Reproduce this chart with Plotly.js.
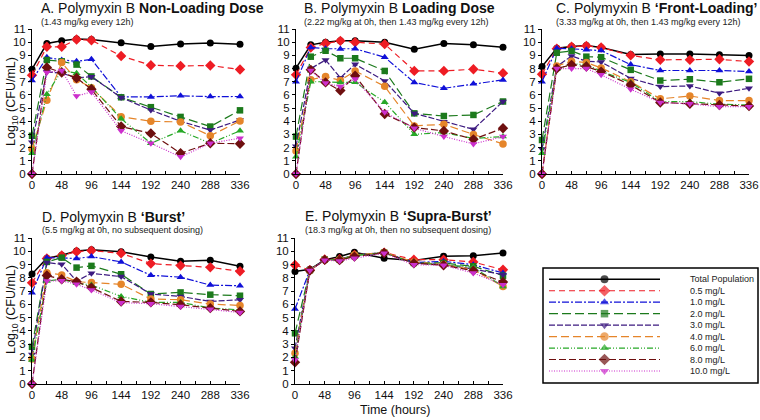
<!DOCTYPE html>
<html><head><meta charset="utf-8">
<script src="https://cdn.plot.ly/plotly-3.0.1.min.js"></script>
<style>html,body{margin:0;padding:0;background:#fff}#chart{width:760px;height:420px}</style>
</head><body><div id="chart"></div>
<script>
// ---- data ----
const hours = [0, 24, 48, 72, 96, 144, 192, 240, 288, 336];
const hourTicks = [0, 48, 96, 144, 192, 240, 288, 336];
const hourMinorTicks = [24, 72, 120, 168, 216, 264, 312];
const seriesNames = ['Total Population', '0.5 mg/L', '1.0 mg/L', '2.0 mg/L', '3.0 mg/L', '4.0 mg/L', '6.0 mg/L', '8.0 mg/L', '10.0 mg/L'];

const panelTitles = [
  'A. Polymyxin B <b>Non-Loading Dose</b>',
  'B. Polymyxin B <b>Loading Dose</b>',
  'C. Polymyxin B <b>‘Front-Loading’</b>',
  'D. Polymyxin B <b>‘Burst’</b>',
  'E. Polymyxin B <b>‘Supra-Burst’</b>'
];
const panelSubtitles = [
  '(1.43 mg/kg every 12h)',
  '(2.22 mg/kg at 0h, then 1.43 mg/kg every 12h)',
  '(3.33 mg/kg at 0h, then 1.43 mg/kg every 12h)',
  '(5.5 mg/kg at 0h, no subsequent dosing)',
  '(18.3 mg/kg at 0h, then no subsequent dosing)'
];

// Log10 CFU/mL, one row per series (order = seriesNames)
const panelA = [
  [7.95, 9.9, 10.1, 10.25, 10.2, 9.95, 9.67, 9.87, 9.93, 9.85],
  [7.5, 9.65, 9.65, 10.2, 10.15, 8.95, 8.25, 8.2, 8.23, 7.93],
  [7.1, 8.85, 8.65, 8.55, 8.7, 5.85, 5.85, 5.93, 5.87, 5.88],
  [2.9, 8.65, 8.55, 8.3, 7.4, 5.82, 5.07, 4.33, 3.6, 4.83],
  [2.4, 7.75, 7.65, 7.3, 7.38, 5.8, 4.85, 4.0, 3.33, 4.1],
  [1.9, 5.6, 8.45, 7.15, 6.55, 4.35, 4.0, 3.95, 2.9, 4.03],
  [1.57, 6.05, 7.85, 7.65, 6.6, 4.2, 2.33, 3.28, 2.33, 3.28],
  [0, 8.08, 7.7, 7.28, 6.43, 3.6, 3.08, 1.58, 2.33, 2.3],
  [0, 7.7, 7.85, 5.92, 6.22, 3.28, 2.33, 1.3, 2.33, 2.72]
];
const panelB = [
  [8.03, 9.8, 10.0, 10.1, 10.1, 10.0, 9.47, 9.9, 9.8, 9.62],
  [7.52, 9.6, 9.9, 10.1, 10.0, 9.85, 7.82, 7.82, 7.95, 7.65],
  [7.0, 9.6, 9.5, 9.48, 9.5, 8.86, 6.94, 6.5, 6.84, 7.14],
  [2.84, 8.9, 9.35, 8.78, 8.78, 7.82, 4.6, 4.4, 4.48, 5.5],
  [2.1, 8.0, 8.65, 7.3, 8.33, 7.06, 4.6, 3.97, 3.39, 5.5],
  [1.75, 7.15, 7.4, 7.1, 7.82, 6.65, 3.65, 3.77, 3.0, 2.28],
  [1.3, 7.0, 7.0, 6.95, 6.96, 5.45, 3.01, 3.14, 2.7, 2.84],
  [0, 7.9, 6.95, 6.33, 7.45, 4.55, 3.52, 3.27, 2.63, 3.47],
  [0, 7.85, 6.9, 6.63, 7.2, 4.68, 3.47, 2.84, 2.28, 2.84]
];
const panelC = [
  [8.15, 9.54, 9.67, 9.75, 9.6, 9.06, 9.11, 9.11, 9.04, 8.99],
  [7.57, 9.5, 9.65, 9.72, 9.6, 9.0, 8.66, 8.66, 8.7, 8.53],
  [7.0, 9.54, 9.5, 9.42, 9.36, 8.3, 7.85, 7.85, 7.85, 7.77],
  [2.58, 9.2, 9.34, 8.9, 8.86, 7.9, 7.09, 7.19, 6.96, 7.22],
  [1.9, 8.15, 8.96, 8.55, 8.5, 7.25, 6.63, 6.68, 6.13, 6.5],
  [0, 8.2, 8.55, 8.45, 8.05, 7.0, 5.7, 5.92, 5.57, 5.57],
  [1.57, 7.95, 8.35, 8.3, 7.8, 6.95, 5.49, 5.49, 5.29, 5.24],
  [0, 8.0, 8.28, 8.15, 7.77, 6.76, 5.42, 5.32, 5.24, 5.16],
  [0, 8.0, 8.0, 8.0, 7.52, 6.43, 5.42, 5.32, 5.11, 5.11]
];
const panelD = [
  [8.28, 9.47, 9.7, 10.02, 10.12, 9.97, 9.57, 9.24, 9.32, 8.87],
  [7.62, 9.45, 9.68, 9.97, 10.05, 9.85, 9.07, 8.92, 8.79, 8.49],
  [6.87, 9.52, 9.5, 9.45, 9.6, 9.2, 8.19, 8.05, 7.45, 7.4],
  [2.8, 9.2, 9.52, 8.77, 8.9, 8.27, 6.78, 6.9, 6.73, 6.65],
  [2.22, 9.15, 9.02, 7.75, 8.34, 8.09, 6.78, 6.6, 6.22, 6.35],
  [1.88, 8.39, 8.22, 7.71, 7.64, 7.51, 6.4, 6.35, 6.02, 5.92],
  [1.8, 7.76, 7.9, 7.6, 7.46, 6.6, 6.15, 6.15, 5.72, 5.59],
  [0, 8.17, 7.89, 7.71, 7.26, 6.22, 6.15, 5.97, 5.72, 5.47],
  [0, 7.76, 7.78, 7.51, 7.09, 6.13, 6.05, 5.84, 5.64, 5.39]
];
const panelE = [
  [8.47, 8.64, 9.35, 9.6, 9.92, 9.47, 9.3, 9.62, 9.67, 9.87],
  [8.97, 8.58, 9.38, 9.4, 9.72, 9.9, 9.37, 9.37, 9.19, 8.61],
  [5.65, 8.58, 9.38, 9.38, 9.72, 9.9, 9.15, 9.24, 8.99, 8.36],
  [3.82, 8.57, 9.38, 9.38, 9.7, 9.9, 9.12, 9.12, 8.87, 8.16],
  [2.69, 8.56, 9.36, 9.36, 9.7, 9.9, 9.12, 9.0, 8.66, 8.24],
  [2.31, 8.56, 9.36, 9.36, 9.72, 9.9, 9.2, 9.0, 8.61, 7.35],
  [2.06, 8.55, 9.35, 9.35, 9.68, 9.88, 9.1, 9.0, 8.79, 7.35],
  [1.63, 8.55, 9.35, 9.33, 9.6, 9.88, 9.1, 8.95, 8.54, 7.68],
  [1.81, 8.55, 9.33, 9.27, 9.47, 9.85, 8.99, 8.95, 8.36, 7.48]
];
const panels = [panelA, panelB, panelC, panelD, panelE];

// ---- styles ----
const colors = ['#000000', '#ee1c24', '#1010d8', '#1c7a1c', '#3d1a80', '#e5852a', '#27a827', '#6e0f0f', '#cc2fcc'];
const symbols = ['circle', 'diamond', 'triangle-up', 'square', 'triangle-down', 'circle', 'triangle-up', 'diamond', 'triangle-down'];
const msizes = [7, 8, 7, 6.5, 7, 7.5, 7, 8, 7];
const dashes = ['solid', '6px,4px', '7px,2px,2px,2px', '9px,4px', '6px,2px', '8px,4px', '6px,2px,1px,2px,1px,2px', '7px,3px', '1px,1.5px'];
const widths = [1.5, 1.2, 1.2, 1.2, 1.2, 1.2, 1.2, 1.2, 1.2];

const W = 760, H = 420;
const px = v => v / W, py = v => (H - v) / H;
const xPix = [[32, 240], [296, 503], [542, 749], [32, 240], [295, 503]];
const yPix = [[29, 174], [29, 174], [29, 174], [238, 384], [238, 384]];
const font = 'Arial, "Liberation Sans", sans-serif';

const data = [];
const layout = {
  width: W, height: H, autosize: false,
  margin: {l: 0, r: 0, t: 0, b: 0, pad: 0},
  paper_bgcolor: '#fff', plot_bgcolor: 'rgba(0,0,0,0)',
  showlegend: false,
  font: {family: font, color: '#111'},
  annotations: [], shapes: []
};

panels.forEach((panel, p) => {
  const sfx = p === 0 ? '' : String(p + 1);
  panel.forEach((vals, i) => {
    data.push({
      type: 'scatter', mode: 'lines+markers', x: hours, y: vals, name: seriesNames[i],
      xaxis: 'x' + sfx, yaxis: 'y' + sfx, cliponaxis: false,
      line: {color: colors[i], width: widths[i], dash: dashes[i]},
      marker: {color: colors[i], symbol: symbols[i], size: msizes[i], line: {width: 0}}
    });
  });
  layout['xaxis' + sfx] = {
    domain: [px(xPix[p][0]), px(xPix[p][1])], anchor: 'y' + sfx,
    range: [0, 336], tickvals: hourTicks, ticktext: hourTicks.map(String),
    ticks: 'inside', ticklen: 3, tickwidth: 1, tickcolor: '#000',
    minor: {tickvals: hourMinorTicks, ticks: 'inside', ticklen: 3, tickcolor: '#000'},
    showline: true, linecolor: '#000', linewidth: 1, showgrid: false, zeroline: false,
    ticklabeloverflow: 'allow',
    tickfont: {size: 11.5, family: font, color: '#111'}, fixedrange: true
  };
  layout['yaxis' + sfx] = {
    domain: [py(yPix[p][1]), py(yPix[p][0])], anchor: 'x' + sfx,
    range: [0, 11], dtick: 1, tick0: 0,
    ticks: 'outside', ticklen: 3, tickwidth: 1, tickcolor: '#000',
    showline: true, linecolor: '#000', linewidth: 1, showgrid: false, zeroline: false,
    tickfont: {size: 11.5, family: font, color: '#111'}, fixedrange: true
  };
});

// titles
const titlePos = [[39, 7.5, 21.5], [302, 7.5, 21.5], [554, 7.5, 21.5], [40, 217, 230], [303, 216, 230]];
panelTitles.forEach((t, p) => {
  layout.annotations.push({xref: 'paper', yref: 'paper', x: px(titlePos[p][0]), y: py(titlePos[p][1]),
    xanchor: 'left', yanchor: 'middle', showarrow: false, text: t, font: {size: 14, family: font, color: '#111'}});
  layout.annotations.push({xref: 'paper', yref: 'paper', x: px(titlePos[p][0]), y: py(titlePos[p][2]),
    xanchor: 'left', yanchor: 'middle', showarrow: false, text: panelSubtitles[p], font: {size: 9, family: font, color: '#222'}});
});
// axis titles
[102, 310].forEach(yc => {
  layout.annotations.push({xref: 'paper', yref: 'paper', x: px(12), y: py(yc), xanchor: 'center', yanchor: 'middle',
    textangle: -90, showarrow: false, text: 'Log<sub>10</sub> (CFU/mL)', font: {size: 12.5, family: font, color: '#111'}});
});
layout.annotations.push({xref: 'paper', yref: 'paper', x: px(395), y: py(410), xanchor: 'center', yanchor: 'middle',
  showarrow: false, text: 'Time (hours)', font: {size: 12.5, family: font, color: '#111'}});

// legend box (drawn as a small axis)
const rowTop = 279.3, rowGap = 11.46;
layout.shapes.push({type: 'rect', xref: 'paper', yref: 'paper', x0: px(543), x1: px(758), y0: py(383), y1: py(268),
  line: {color: '#000', width: 1.5}, fillcolor: 'rgba(0,0,0,0)', layer: 'below'});
layout.xaxis6 = {domain: [px(549), px(660)], range: [0, 1], anchor: 'y6', visible: false, fixedrange: true};
layout.yaxis6 = {domain: [py(rowTop + 8 * rowGap + rowGap / 2), py(rowTop - rowGap / 2)], range: [seriesNames.length - 0.5, -0.5], anchor: 'x6', visible: false, fixedrange: true};
seriesNames.forEach((name, i) => {
  data.push({
    type: 'scatter', mode: 'lines+markers', x: [0, 0.5, 1], y: [i, i, i], xaxis: 'x6', yaxis: 'y6',
    cliponaxis: false, hoverinfo: 'skip',
    line: {color: colors[i], width: widths[i], dash: dashes[i]},
    marker: {color: colors[i], symbol: symbols[i], size: [0, msizes[i] + 1, 0], line: {width: 0}}
  });
  layout.annotations.push({xref: 'paper', yref: 'paper', x: px(688), y: py(rowTop + i * rowGap), xanchor: 'left', yanchor: 'middle',
    showarrow: false, text: name, font: {size: 9, family: font, color: '#222'}});
});

Plotly.newPlot('chart', data, layout, {staticPlot: true, displayModeBar: false});
</script>
</body></html>
